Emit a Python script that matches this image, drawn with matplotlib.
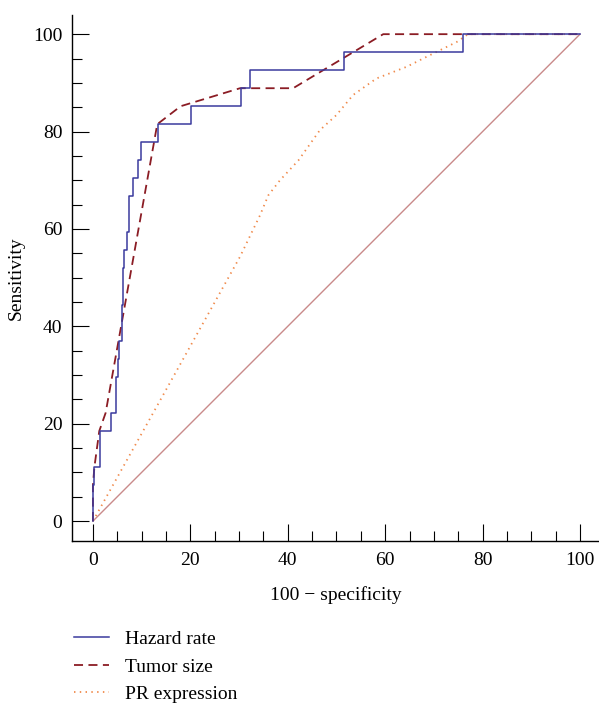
import numpy as np
import matplotlib
matplotlib.use('Agg')
import matplotlib.pyplot as plt
from matplotlib.ticker import MultipleLocator

plt.rcParams['font.family'] = ['Liberation Serif', 'DejaVu Serif']

# ROC curves (x = 100 - specificity, y = sensitivity)
hazard_x = [0, 0, 0.3, 0.3, 1.4, 1.4, 3.7, 3.7, 4.7, 4.7, 5.1, 5.1, 5.4, 5.4,
            5.9, 5.9, 6.2, 6.2, 6.4, 6.4, 7.0, 7.0, 7.5, 7.5, 8.3, 8.3, 9.2, 9.2,
            9.9, 9.9, 13.3, 13.3, 20.1, 20.1, 30.3, 30.3, 32.2, 32.2, 51.5, 51.5,
            75.9, 75.9, 100]
hazard_y = [0, 7.4, 7.4, 11.1, 11.1, 18.5, 18.5, 22.2, 22.2, 29.6, 29.6, 33.3,
            33.3, 37.0, 37.0, 44.4, 44.4, 51.9, 51.9, 55.6, 55.6, 59.3, 59.3, 66.7,
            66.7, 70.4, 70.4, 74.1, 74.1, 77.8, 77.8, 81.5, 81.5, 85.2, 85.2, 88.9,
            88.9, 92.6, 92.6, 96.3, 96.3, 100, 100]

tumor_x = [0, 0, 0.3, 1.3, 2.6, 13.2, 18.0, 30.2, 41.1, 59.6, 100]
tumor_y = [0, 7.4, 11.1, 18.5, 22.2, 81.5, 85.2, 88.9, 88.9, 100, 100]

pr_x = [0, 18.2, 30.2, 34.3, 36.0, 38.4, 42.2, 46.6, 50.0, 53.4, 58.2, 64.4,
        69.2, 74.7, 77.0, 100]
pr_y = [0, 32.7, 54.3, 62.8, 66.9, 70.0, 74.1, 80.3, 83.4, 87.5, 90.9, 93.3,
        95.7, 98.4, 100, 100]

diag = [0, 100]

labels = ['Hazard rate', 'Tumor size', 'PR expression']

fig = plt.figure(figsize=(5.99, 7.03), dpi=100)
ax = fig.add_axes([0.1202, 0.2304, 0.8798, 0.748])

ax.plot(diag, diag, color='#c98a8a', lw=1.0)
ax.plot(pr_x, pr_y, color='#f08a4b', lw=1.3, linestyle=(0, (0.8, 2.4)), label=labels[2])
ax.plot(tumor_x, tumor_y, color='#8b1c24', lw=1.3, linestyle=(0, (5, 3)), label=labels[1])
ax.plot(hazard_x, hazard_y, color='#3a3a9e', lw=1.1, label=labels[0])

ax.set_xlim(-4.3, 103.9)
ax.set_ylim(-4.1, 103.9)
ax.xaxis.set_major_locator(MultipleLocator(20))
ax.yaxis.set_major_locator(MultipleLocator(20))
ax.xaxis.set_minor_locator(MultipleLocator(5))
ax.yaxis.set_minor_locator(MultipleLocator(5))
ax.tick_params(which='major', direction='in', length=12, width=0.8, labelsize=14)
ax.tick_params(axis='x', which='major', pad=8)
ax.tick_params(axis='y', which='major', pad=7)
ax.tick_params(which='minor', direction='in', length=7, width=0.8)
for s in ['top', 'right']:
    ax.spines[s].set_visible(False)
for s in ['left', 'bottom']:
    ax.spines[s].set_linewidth(1.0)

ax.set_xlabel('100 \u2212 specificity', fontsize=14, labelpad=12)
ax.set_ylabel('Sensitivity', fontsize=14, labelpad=6)

h, l = ax.get_legend_handles_labels()
order = [2, 1, 0]
fig.legend([h[i] for i in order], [l[i] for i in order], loc='upper left',
           bbox_to_anchor=(0.11, 0.114), frameon=False, fontsize=14,
           handlelength=1.8, handletextpad=0.82, labelspacing=0.5, borderaxespad=0)

fig.savefig('out.png', dpi=100)
